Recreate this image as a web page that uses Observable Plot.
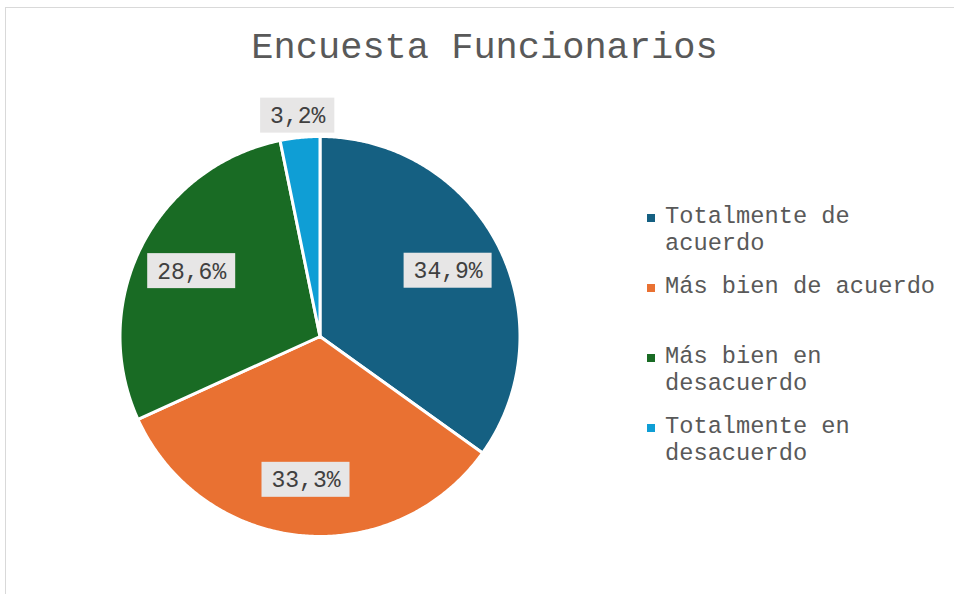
<!DOCTYPE html>
<html>
<head>
<meta charset="utf-8">
<script src="https://cdn.jsdelivr.net/npm/d3@7"></script>
<script src="https://cdn.jsdelivr.net/npm/@observablehq/plot@0.6"></script>
<style>
html, body { margin: 0; padding: 0; background: #fff; width: 954px; height: 594px; overflow: hidden; }
#frame { position: absolute; left: 5px; top: 7px; width: 960px; height: 640px; border: 1px solid #D9D9D9; box-sizing: border-box; }
#title { position: absolute; left: 6px; width: 957px; top: 29.6px; text-align: center; font-family: "Liberation Mono", monospace; font-size: 37px; line-height: 37px; color: #595959; white-space: nowrap; }
#chart { position: absolute; left: 0; top: 74px; }
#legend { position: absolute; left: 647px; top: 204.4px; }
.lg-swatches { font-family: "Liberation Mono", monospace; font-size: 23.7px; color: #595959; margin: 0; }
.lg-swatch { height: 70px; align-items: flex-start !important; padding-bottom: 0 !important; }
.lg-swatch > svg { margin-top: 9.6px; margin-right: 10px; }
.lg-swatch-label { white-space: normal !important; width: 282px; line-height: 26.5px; overflow: visible !important; }
</style>
</head>
<body>
<div id="frame"></div>
<div id="title"></div>
<div id="chart"></div>
<div id="legend"></div>
<script>
const title = "Encuesta Funcionarios";
const categories = ["Totalmente de acuerdo", "Más bien de acuerdo", "Más bien en desacuerdo", "Totalmente en desacuerdo"];
const percentages = [34.9, 33.3, 28.6, 3.2];
const colors = ["#156082", "#E97132", "#196B24", "#0F9ED5"];

document.getElementById("title").textContent = title;

const rows = categories.map((c, i) => ({cat: c, value: percentages[i]}));
const total = d3.sum(rows, d => d.value);
const arcs = d3.pie().sort(null).value(d => d.value)(rows);

// polygon outline of each slice (unit circle, angle clockwise from top)
const pts = [];
for (const a of arcs) {
  const cat = a.data.cat;
  const n = Math.max(2, Math.ceil((a.endAngle - a.startAngle) / (Math.PI / 360)));
  pts.push({cat, x: 0, y: 0});
  for (let i = 0; i <= n; i++) {
    const t = a.startAngle + (a.endAngle - a.startAngle) * i / n;
    pts.push({cat, x: Math.sin(t), y: Math.cos(t)});
  }
  pts.push({cat, x: 0, y: 0});
}

const W = 640, H = 520, cx = 319.5, cy = 262, R = 200;
const charW = 13.8, padW = 19, boxH = 35;
const labels = arcs.map(a => {
  const mid = (a.startAngle + a.endAngle) / 2;
  const share = a.data.value / total;
  const r = share < 0.05 ? 1.11 : 0.72;
  const text = (a.data.value / total * 100).toFixed(1).replace(".", ",") + "%";
  const lx = r * Math.sin(mid), ly = r * Math.cos(mid);
  const hw = (text.length * charW + padW) / 2 / R, hh = boxH / 2 / R;
  return {text, lx, ly, x1: lx - hw, x2: lx + hw, y1: ly - hh, y2: ly + hh};
});

const chart = Plot.plot({
  width: W,
  height: H,
  margin: 0,
  x: {domain: [-1, 1], range: [cx - R, cx + R], axis: null},
  y: {domain: [-1, 1], range: [cy + R, cy - R], axis: null},
  color: {domain: categories, range: colors},
  style: {background: "transparent", overflow: "visible"},
  marks: [
    Plot.line(pts, {x: "x", y: "y", z: "cat", fill: "cat", stroke: "white", strokeWidth: 3, strokeLinejoin: "round"}),
    Plot.rect(labels, {x1: "x1", x2: "x2", y1: "y1", y2: "y2", fill: "#E7E6E6"}),
    Plot.text(labels, {x: "lx", y: "ly", text: "text", fontFamily: "Liberation Mono", fontSize: 23, fill: "#404040"})
  ]
});
document.getElementById("chart").appendChild(chart);

const legend = Plot.legend({
  color: {domain: categories, range: colors, type: "ordinal"},
  columns: 1,
  swatchSize: 8,
  className: "lg"
});
document.getElementById("legend").appendChild(legend);
</script>
</body>
</html>
